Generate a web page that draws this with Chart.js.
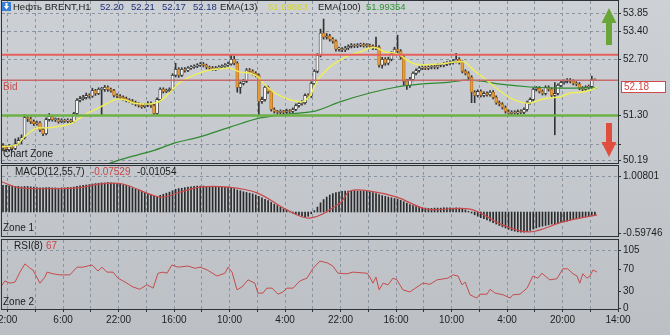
<!DOCTYPE html>
<html>
<head>
<meta charset="utf-8">
<script src="https://cdn.jsdelivr.net/npm/chart.js@4.4.1/dist/chart.umd.min.js"></script>
<style>
  html, body { margin: 0; padding: 0; }
  body { width: 670px; height: 335px; overflow: hidden; position: relative;
         background: linear-gradient(#cdd1d6, #c3c7cc 60%, #bcc0c5); }
  canvas { position: absolute; left: 0; }
  #mainChart { top: 0; }
  #macdChart { top: 164px; }
  #rsiChart { top: 238px; }
</style>
</head>
<body>
<canvas id="mainChart" width="670" height="165"></canvas>
<canvas id="macdChart" width="670" height="74"></canvas>
<canvas id="rsiChart" width="670" height="97"></canvas>
<script>
// time labels under the RSI window (every 18 bars)
const xLabels = ['2:00', '6:00', '22:00', '16:00', '10:00', '4:00', '22:00', '16:00', '10:00', '4:00', '20:00', '14:00'];

// H1 candles, bar 0 .. 192
const opens = [
  50.55, 50.50, 50.45, 50.52, 50.48, 50.60, 50.68, 50.75, 51.25, 51.22,
  51.15, 51.10, 51.12, 50.95, 50.85, 51.20, 51.28, 51.20, 51.20, 51.15,
  51.18, 51.16, 51.18, 51.15, 51.35, 51.68, 51.72, 51.75, 51.80, 51.78,
  51.92, 51.85, 51.95, 51.95, 52.00, 51.95, 51.92, 51.80, 51.78, 51.75,
  51.72, 51.68, 51.66, 51.62, 51.58, 51.55, 51.52, 51.56, 51.60, 51.55,
  51.35, 51.70, 51.95, 51.90, 51.92, 51.95, 52.30, 52.45, 52.30, 52.45,
  52.42, 52.48, 52.50, 52.52, 52.55, 52.58, 52.55, 52.50, 52.48, 52.45,
  52.48, 52.50, 52.52, 52.55, 52.58, 52.70, 52.60, 52.00, 52.10, 52.15,
  52.43, 52.40, 52.35, 52.30, 51.65, 51.70, 52.00, 51.90, 51.45, 51.40,
  51.38, 51.40, 51.38, 51.42, 51.40, 51.45, 51.55, 51.60, 51.62, 51.80,
  51.78, 52.10, 52.40, 52.80, 53.35, 53.25, 53.28, 53.20, 53.15, 52.95,
  52.95, 52.93, 52.98, 53.02, 53.05, 53.03, 53.05, 53.06, 53.04, 53.05,
  53.02, 52.98, 53.00, 52.55, 52.70, 52.60, 52.70, 52.85, 52.95, 52.90,
  52.75, 52.15, 52.05, 52.20, 52.35, 52.42, 52.48, 52.50, 52.48, 52.50,
  52.52, 52.50, 52.55, 52.55, 52.58, 52.60, 52.62, 52.65, 52.70, 52.62,
  52.40, 52.35, 52.25, 51.88, 51.80, 51.90, 51.80, 51.85, 51.82, 51.88,
  51.75, 51.62, 51.58, 51.50, 51.40, 51.35, 51.38, 51.36, 51.40, 51.38,
  51.45, 51.62, 51.70, 51.95, 51.98, 51.90, 51.85, 52.00, 51.95, 51.80,
  51.85, 52.05, 52.12, 52.15, 52.18, 52.15, 52.10, 52.08, 51.98, 51.95,
  52.00, 52.02, 52.20
];
const highs = [
  50.60, 50.55, 50.58, 50.56, 50.72, 50.75, 50.82, 51.32, 51.30, 51.26,
  51.19, 51.16, 51.15, 50.98, 51.24, 51.35, 51.31, 51.24, 51.23, 51.22,
  51.21, 51.22, 51.21, 51.38, 51.72, 51.78, 51.80, 51.86, 51.84, 51.98,
  51.95, 51.99, 52.00, 52.05, 52.04, 51.98, 51.95, 51.84, 51.82, 51.79,
  51.76, 51.72, 51.70, 51.66, 51.62, 51.59, 51.60, 51.65, 51.64, 51.58,
  51.74, 51.99, 51.99, 51.96, 51.99, 52.34, 52.60, 52.49, 52.49, 52.49,
  52.52, 52.54, 52.56, 52.59, 52.62, 52.62, 52.58, 52.53, 52.52, 52.52,
  52.54, 52.56, 52.59, 52.63, 52.80, 52.78, 52.64, 52.14, 52.20, 52.47,
  52.47, 52.44, 52.39, 52.34, 51.76, 52.04, 52.03, 51.93, 51.49, 51.43,
  51.44, 51.43, 51.46, 51.45, 51.49, 51.59, 51.64, 51.67, 51.84, 51.84,
  52.14, 52.44, 52.84, 53.45, 53.70, 53.34, 53.32, 53.24, 53.18, 53.00,
  52.99, 53.02, 53.06, 53.09, 53.08, 53.09, 53.10, 53.10, 53.09, 53.08,
  53.06, 53.25, 53.04, 52.75, 52.74, 52.75, 52.89, 53.00, 53.30, 52.94,
  52.79, 52.20, 52.25, 52.39, 52.46, 52.52, 52.54, 52.53, 52.54, 52.56,
  52.56, 52.59, 52.59, 52.62, 52.64, 52.66, 52.69, 52.85, 52.74, 52.66,
  52.44, 52.39, 52.29, 51.92, 51.94, 51.94, 51.89, 51.89, 51.92, 51.92,
  51.79, 51.66, 51.62, 51.54, 51.44, 51.42, 51.42, 51.44, 51.44, 51.49,
  51.66, 51.74, 51.99, 52.02, 52.02, 51.94, 52.04, 52.04, 51.99, 52.12,
  52.09, 52.16, 52.19, 52.22, 52.22, 52.19, 52.14, 52.12, 52.02, 52.04,
  52.06, 52.28, 52.21
];
const lows = [
  50.42, 50.40, 50.41, 50.44, 50.45, 50.57, 50.60, 50.72, 51.15, 51.10,
  51.05, 51.06, 50.90, 50.80, 50.82, 51.16, 51.16, 51.15, 51.11, 51.12,
  51.13, 51.12, 51.11, 51.12, 51.32, 51.64, 51.68, 51.71, 51.73, 51.75,
  51.80, 51.82, 51.30, 51.90, 51.90, 51.88, 51.76, 51.74, 51.71, 51.68,
  51.64, 51.62, 51.58, 51.54, 51.51, 51.48, 51.49, 51.52, 51.50, 51.32,
  51.33, 51.66, 51.86, 51.87, 51.88, 51.92, 52.26, 52.25, 52.27, 52.38,
  52.39, 52.45, 52.47, 52.49, 52.52, 52.51, 52.46, 52.44, 52.42, 52.42,
  52.45, 52.47, 52.49, 52.52, 52.55, 52.56, 51.88, 51.85, 52.06, 52.12,
  52.36, 52.31, 52.26, 51.30, 51.60, 51.66, 51.85, 51.41, 51.36, 51.34,
  51.34, 51.34, 51.35, 51.36, 51.37, 51.42, 51.51, 51.56, 51.58, 51.73,
  51.75, 52.06, 52.36, 52.76, 53.20, 53.20, 53.15, 53.10, 52.90, 52.90,
  52.89, 52.89, 52.94, 52.98, 52.99, 52.99, 53.01, 53.00, 53.00, 52.98,
  52.94, 52.94, 52.50, 52.48, 52.55, 52.56, 52.66, 52.81, 52.85, 52.70,
  52.05, 51.95, 52.00, 52.16, 52.31, 52.38, 52.44, 52.44, 52.44, 52.46,
  52.46, 52.46, 52.51, 52.51, 52.54, 52.56, 52.58, 52.61, 52.58, 52.36,
  52.31, 52.20, 51.62, 51.62, 51.76, 51.76, 51.76, 51.78, 51.78, 51.71,
  51.58, 51.54, 51.46, 51.36, 51.31, 51.31, 51.32, 51.32, 51.34, 51.34,
  51.41, 51.58, 51.66, 51.91, 51.86, 51.81, 51.81, 51.91, 51.76, 50.82,
  51.81, 52.01, 52.08, 52.11, 52.11, 52.06, 52.04, 51.94, 51.91, 51.91,
  51.96, 51.98, 52.17
];
const closes = [
  50.50, 50.45, 50.52, 50.48, 50.60, 50.68, 50.75, 51.25, 51.22, 51.15,
  51.10, 51.12, 50.95, 50.85, 51.20, 51.28, 51.20, 51.20, 51.15, 51.18,
  51.16, 51.18, 51.15, 51.35, 51.68, 51.72, 51.75, 51.80, 51.78, 51.92,
  51.85, 51.95, 51.95, 52.00, 51.95, 51.92, 51.80, 51.78, 51.75, 51.72,
  51.68, 51.66, 51.62, 51.58, 51.55, 51.52, 51.56, 51.60, 51.55, 51.35,
  51.70, 51.95, 51.90, 51.92, 51.95, 52.30, 52.45, 52.30, 52.45, 52.42,
  52.48, 52.50, 52.52, 52.55, 52.58, 52.55, 52.50, 52.48, 52.45, 52.48,
  52.50, 52.52, 52.55, 52.58, 52.70, 52.60, 52.00, 52.10, 52.15, 52.43,
  52.40, 52.35, 52.30, 51.65, 51.70, 52.00, 51.90, 51.45, 51.40, 51.38,
  51.40, 51.38, 51.42, 51.40, 51.45, 51.55, 51.60, 51.62, 51.80, 51.78,
  52.10, 52.40, 52.80, 53.35, 53.25, 53.28, 53.20, 53.15, 52.95, 52.95,
  52.93, 52.98, 53.02, 53.05, 53.03, 53.05, 53.06, 53.04, 53.05, 53.02,
  52.98, 53.00, 52.55, 52.70, 52.60, 52.70, 52.85, 52.95, 52.90, 52.75,
  52.15, 52.05, 52.20, 52.35, 52.42, 52.48, 52.50, 52.48, 52.50, 52.52,
  52.50, 52.55, 52.55, 52.58, 52.60, 52.62, 52.65, 52.70, 52.62, 52.40,
  52.35, 52.25, 51.88, 51.80, 51.90, 51.80, 51.85, 51.82, 51.88, 51.75,
  51.62, 51.58, 51.50, 51.40, 51.35, 51.38, 51.36, 51.40, 51.38, 51.45,
  51.62, 51.70, 51.95, 51.98, 51.90, 51.85, 52.00, 51.95, 51.80, 51.85,
  52.05, 52.12, 52.15, 52.18, 52.15, 52.10, 52.08, 51.98, 51.95, 52.00,
  52.02, 52.20, 52.18
];

// moving averages (bar position, price)
const ema13Bars = [-1, 4.5, 6.5, 8.8, 11, 13.6, 16.2, 20.1, 22.4, 25, 28.2, 31.5, 34.7, 37, 39.6, 42.2, 44.4, 47.7, 50.9, 54.2,
  57.4, 60.7, 63.9, 67.1, 70.4, 73.6, 76.9, 80.1, 82.7, 85, 88.2, 91.5, 94.7, 97, 99.6, 101.2, 102.8, 106.1, 109.3, 112.6,
  115.8, 119, 121.3, 123.9, 126.5, 128.8, 131, 133.6, 136.2, 141.7, 146.6, 149.9, 151.5, 154.7, 158, 161.2, 164.5, 167.7, 170.9, 174.2,
  177.4, 180.7, 183.9, 187.2, 190.4, 192.7];
const ema13Vals = [50.52, 50.57, 50.74, 50.89, 50.99, 50.99, 51.01, 51.06, 51.11, 51.24, 51.39, 51.51, 51.64, 51.71, 51.69, 51.61, 51.59, 51.59, 51.66, 51.88,
  52.13, 52.26, 52.36, 52.43, 52.46, 52.48, 52.38, 52.36, 52.26, 52.06, 51.86, 51.74, 51.66, 51.64, 51.79, 52.06, 52.26, 52.51, 52.68, 52.81,
  52.88, 52.98, 52.98, 52.88, 52.86, 52.81, 52.68, 52.58, 52.56, 52.58, 52.63, 52.63, 52.51, 52.31, 52.11, 51.91, 51.74, 51.64, 51.61, 51.69,
  51.74, 51.76, 51.86, 51.88, 51.93, 52.00];
const ema100Bars = [30, 35.7, 41.2, 49.3, 55.8, 63.9, 73.6, 83.4, 93.1, 101.2, 109.3, 119, 127.8, 135.3, 145, 149.9, 154.7, 161.2, 170.9, 180.7, 192.7];
const ema100Vals = [49.98, 50.14, 50.27, 50.44, 50.62, 50.77, 51.01, 51.24, 51.34, 51.41, 51.64, 51.86, 52.01, 52.08, 52.13, 52.18, 52.16, 52.08, 52.01, 51.98, 51.99];
const ema13Now = '51.99863';
const ema100Now = '51.99354';

// horizontal levels
const resistLevel = 52.81;
const bidLevel = 52.18;
const supportLevel = 51.30;
const priceTicks = [53.85, 53.40, 52.70, 51.30, 50.57, 50.19];

// MACD(12,55,7): histogram per bar and signal line
const macdHist = [
  0.75, 0.75, 0.74, 0.73, 0.72, 0.72, 0.71,
  0.72, 0.72, 0.71, 0.70, 0.69, 0.68, 0.68, 0.69, 0.69, 0.68, 0.68, 0.67, 0.68, 0.68, 0.69, 0.69, 0.70, 0.72,
  0.74, 0.75, 0.76, 0.77, 0.79, 0.80, 0.81,
  0.82, 0.82, 0.83, 0.82, 0.81, 0.80, 0.79,
  0.77, 0.75, 0.72, 0.68, 0.65, 0.62,
  0.58, 0.55, 0.52, 0.49, 0.45, 0.44, 0.47,
  0.50, 0.53, 0.56, 0.60, 0.64, 0.66, 0.67, 0.69,
  0.70, 0.71, 0.72, 0.73, 0.73, 0.73, 0.72, 0.72, 0.71, 0.71, 0.70, 0.70, 0.70, 0.70, 0.69,
  0.66, 0.62, 0.60, 0.57, 0.55, 0.53, 0.51, 0.48,
  0.44, 0.40, 0.36, 0.32, 0.27, 0.22, 0.18, 0.13, 0.09, 0.05, 0.01,
  -0.03, -0.06, -0.09, -0.12, -0.14, -0.12, -0.05,
  0.04, 0.14, 0.26, 0.35, 0.42, 0.48, 0.52, 0.55, 0.56, 0.58,
  0.59, 0.59, 0.60, 0.60, 0.59, 0.59, 0.58, 0.58, 0.57,
  0.55, 0.52, 0.49, 0.46, 0.44, 0.42, 0.40, 0.38, 0.36,
  0.33, 0.29, 0.25, 0.21, 0.18, 0.15, 0.13, 0.12, 0.11,
  0.10, 0.10, 0.11, 0.11, 0.11, 0.12, 0.12, 0.12, 0.11, 0.12, 0.11, 0.09, 0.06, 0.02, -0.03,
  -0.08, -0.12, -0.16, -0.19, -0.22, -0.26, -0.30, -0.34, -0.38, -0.42,
  -0.45, -0.49, -0.52, -0.54, -0.56, -0.57, -0.57, -0.55, -0.52,
  -0.48, -0.45, -0.42, -0.40, -0.38, -0.36, -0.34, -0.33, -0.31, -0.30, -0.28, -0.26,
  -0.23, -0.21, -0.19, -0.17, -0.15, -0.13, -0.11, -0.09, -0.08
];
const signalBars = [-1, 5.5, 24, 31.5, 38.9, 50.9, 57.4, 63.9, 72.7, 82.4, 92.1, 99.6, 109.3, 112.6, 119, 127.8, 137.5, 151.5, 162.2, 170.9, 181.6, 192.7];
const signalVals = [0.87, 0.68, 0.68, 0.79, 0.79, 0.42, 0.56, 0.70, 0.70, 0.54, 0.06, -0.17, 0.25, 0.59, 0.59, 0.42, 0.08, 0.08, -0.37, -0.56, -0.28, -0.08];
const macdTicks = [1.00801, -0.59746];
const macdNow = '-0.07529';
const signalNow = '-0.01054';

// RSI(8)
const rsiBars = [-1, 0.6, 2.3, 3.9, 5.5, 7.1, 8.8, 9.7, 12.0, 13.6, 14.3, 16.2, 18.5, 21.7, 24.0, 25.9, 28.9, 30.8, 32.1, 33.7,
  35.7, 37.3, 39.6, 42.2, 44.4, 46.7, 48.7, 50.3, 51.9, 53.2, 54.8, 56.8, 60.0, 62.3, 63.9, 66.2, 69.4, 72.0, 73.0, 74.3,
  75.9, 77.5, 79.5, 81.7, 82.7, 84.3, 85.6, 87.3, 89.2, 90.8, 92.1, 94.1, 96.3, 98.6, 100.6, 102.8, 105.1, 107.0, 108.7, 111.6,
  113.5, 118.1, 119.0, 120.0, 121.0, 122.0, 123.3, 124.9, 126.5, 127.8, 129.7, 132.0, 134.3, 136.2, 138.5, 140.8, 144.3, 146.0, 147.6, 148.9,
  149.9, 151.5, 153.7, 154.7, 157.0, 158.0, 159.6, 162.2, 164.5, 165.4, 167.7, 170.0, 171.9, 173.5, 174.8, 177.4, 179.7, 181.6, 183.2, 184.9,
  186.2, 187.1, 188.1, 189.4, 190.4, 191.4, 192.7];
const rsiVals = [36, 49, 45, 47, 65, 80, 72, 69, 45, 56, 65, 62, 60, 60, 74, 74, 78, 67, 74, 65,
  65, 54, 47, 38, 34, 42, 36, 63, 65, 63, 78, 74, 76, 72, 74, 69, 58, 63, 74, 65,
  33, 38, 51, 45, 27, 27, 36, 36, 25, 29, 36, 36, 49, 54, 72, 85, 82, 76, 63, 62,
  65, 63, 56, 45, 56, 33, 45, 42, 54, 51, 33, 29, 38, 45, 43, 51, 54, 60, 58, 42,
  47, 24, 18, 25, 25, 34, 27, 24, 18, 24, 25, 36, 58, 54, 63, 51, 53, 71, 71, 62,
  58, 45, 62, 54, 58, 69, 65];
const rsiTicks = [105, 70, 30, 0];
const rsiNow = '67';

Chart.defaults.font.family = '"Liberation Sans", Arial, sans-serif';
Chart.defaults.font.size = 10;

const gridColor = '#8a94a0';
const gridBars = xLabels.concat(xLabels).map((_, k) => 1.5 + 9 * k).slice(0, 23);
const last = closes.length - 1;

function xAxis(showLabels) {
  return {
    type: 'linear', min: -0.32, max: 199.5, offset: false,
    afterBuildTicks: s => { s.ticks = gridBars.map(v => ({ value: v })); },
    afterFit: s => { s.height = showLabels ? 26 : 0; s.paddingLeft = 0; s.paddingRight = 0; },
    grid: { color: gridColor, offset: false, drawTicks: showLabels, tickLength: 3, tickColor: '#333', tickBorderDash: [] },
    border: { display: false, dash: [3, 3] },
    ticks: {
      display: showLabels, autoSkip: false, maxRotation: 0, padding: 2, color: '#1e1e1e',
      callback: (v, i) => (i % 2 === 0 ? xLabels[i / 2] : '')
    }
  };
}

function yAxis(min, max, values, fmt, gridOn) {
  return {
    position: 'right', min: min, max: max,
    afterBuildTicks: s => { s.ticks = values.map(v => ({ value: v })); },
    afterFit: s => { s.width = 52; s.paddingTop = 0; s.paddingBottom = 0; },
    grid: {
      color: c => (c.tick && gridOn(c.tick.value) ? gridColor : 'rgba(0,0,0,0)'),
      tickLength: 3, tickColor: '#333', tickBorderDash: []
    },
    border: { display: false, dash: [3, 3] },
    ticks: { autoSkip: false, padding: 2, color: '#1e1e1e', callback: fmt }
  };
}

function txt(ctx, s, x, y, color, size) {
  ctx.fillStyle = color;
  ctx.font = (size || 10) + 'px "Liberation Sans", Arial, sans-serif';
  ctx.textBaseline = 'middle';
  ctx.textAlign = 'left';
  ctx.fillText(s, x, y);
}

function frame(chart) {
  const ctx = chart.ctx, a = chart.chartArea;
  ctx.save();
  ctx.strokeStyle = '#2e3338';
  ctx.lineWidth = 1;
  ctx.strokeRect(a.left - 0.5, a.top - 0.5, a.right - a.left + 1, a.bottom - a.top + 1);
  ctx.restore();
}

const base = {
  responsive: false, animation: false, devicePixelRatio: 1, events: [],
  plugins: { legend: { display: false }, tooltip: { enabled: false } }
};

// ---------- main price window ----------
const mainDeco = {
  id: 'mainDeco',
  afterDraw(chart) {
    const ctx = chart.ctx, a = chart.chartArea, y = chart.scales.y;
    frame(chart);
    ctx.save();
    // header
    ctx.fillStyle = '#3b7fd4';
    ctx.fillRect(2, 2, 9, 9);
    ctx.fillStyle = '#fff';
    ctx.beginPath();
    ctx.moveTo(4, 6); ctx.lineTo(9, 6); ctx.lineTo(6.5, 9.5); ctx.closePath(); ctx.fill();
    ctx.fillRect(5.5, 3, 2, 3);
    txt(ctx, 'Нефть BRENT,H1', 13, 7, '#1c1c1c', 9.5);
    txt(ctx, opens[last].toFixed(2), 100, 7, '#22307e', 9.5);
    txt(ctx, highs[last].toFixed(2), 131, 7, '#22307e', 9.5);
    txt(ctx, lows[last].toFixed(2), 162, 7, '#22307e', 9.5);
    txt(ctx, closes[last].toFixed(2), 193, 7, '#22307e', 9.5);
    txt(ctx, 'EMA(13)', 220, 7, '#1c1c1c', 9.5);
    txt(ctx, ema13Now, 268, 7, '#d6d622', 9.5);
    txt(ctx, 'EMA(100)', 318, 7, '#1c1c1c', 9.5);
    txt(ctx, ema100Now, 366, 7, '#2c962c', 9.5);
    // labels inside the window
    txt(ctx, 'Bid', 3, y.getPixelForValue(bidLevel) + 7, '#c44e4e');
    txt(ctx, 'Chart Zone', 3, a.bottom - 9, '#1c1c1c');
    // bid price box on the scale
    const by = Math.round(y.getPixelForValue(bidLevel)) + 1;
    ctx.fillStyle = '#ffffff';
    ctx.fillRect(a.right + 3, by, 45, 12);
    ctx.strokeStyle = '#d04848';
    ctx.lineWidth = 1;
    ctx.strokeRect(a.right + 3.5, by + 0.5, 44, 11);
    txt(ctx, bidLevel.toFixed(2), a.right + 6, by + 6.5, '#d04848');
    // arrows
    const cx = a.right - 9;
    ctx.fillStyle = '#68a638';
    ctx.fillRect(cx - 3, 22, 6, 23);
    ctx.beginPath();
    ctx.moveTo(cx - 7.5, 23); ctx.lineTo(cx + 7.5, 23); ctx.lineTo(cx, 8); ctx.closePath(); ctx.fill();
    ctx.fillStyle = '#e04e3e';
    ctx.fillRect(cx - 3, 123, 6, 20);
    ctx.beginPath();
    ctx.moveTo(cx - 7.5, 142); ctx.lineTo(cx + 7.5, 142); ctx.lineTo(cx, 157); ctx.closePath(); ctx.fill();
    ctx.restore();
  }
};

const bull = i => closes[i] >= opens[i];

new Chart(document.getElementById('mainChart'), {
  type: 'bar',
  data: {
    datasets: [
      {
        type: 'line', order: 0, data: [{ x: -1, y: resistLevel }, { x: 201, y: resistLevel }],
        borderColor: '#e6605c', borderWidth: 2, pointRadius: 0
      },
      {
        type: 'line', order: 0, data: [{ x: -1, y: bidLevel }, { x: 201, y: bidLevel }],
        borderColor: '#c86a6a', borderWidth: 1.5, pointRadius: 0
      },
      {
        type: 'line', order: 0, data: [{ x: -1, y: supportLevel }, { x: 201, y: supportLevel }],
        borderColor: '#6cb046', borderWidth: 2.5, pointRadius: 0
      },
      {
        type: 'line', order: 1, data: ema13Bars.map((b, i) => ({ x: b, y: ema13Vals[i] })),
        borderColor: '#eeee5a', borderWidth: 1.5, pointRadius: 0, tension: 0.3
      },
      {
        type: 'line', order: 1, data: ema100Bars.map((b, i) => ({ x: b, y: ema100Vals[i] })),
        borderColor: '#2e8a2e', borderWidth: 1.2, pointRadius: 0, tension: 0.3
      },
      {
        order: 2, grouped: false, barThickness: 3, minBarLength: 1, borderSkipped: false,
        data: closes.map((c, i) => ({ x: i, y: [opens[i], c] })),
        backgroundColor: c => (bull(c.dataIndex) ? '#f6f6f6' : '#e79c36'),
        borderColor: c => (bull(c.dataIndex) ? '#3a3a3a' : '#b07024'),
        borderWidth: 0.8
      },
      {
        order: 3, grouped: false, barThickness: 1,
        data: highs.map((h, i) => ({ x: i, y: [lows[i], h] })),
        backgroundColor: '#333333'
      }
    ]
  },
  options: Object.assign({}, base, {
    layout: { padding: { top: 1, left: 2, bottom: 2, right: 0 } },
    scales: {
      x: xAxis(false),
      y: yAxis(50.119, 54.149, priceTicks, v => (v === 50.57 ? '' : v.toFixed(2)), () => true)
    }
  }),
  plugins: [mainDeco]
});

// ---------- MACD window ----------
new Chart(document.getElementById('macdChart'), {
  type: 'bar',
  data: {
    datasets: [
      {
        type: 'line', order: 0, data: signalBars.map((b, i) => ({ x: b, y: signalVals[i] })),
        borderColor: '#c84a4a', borderWidth: 1.2, pointRadius: 0, tension: 0.35
      },
      {
        order: 1, barThickness: 1, data: macdHist.map((v, i) => ({ x: i, y: v })),
        backgroundColor: '#2a2a2a'
      }
    ]
  },
  options: Object.assign({}, base, {
    layout: { padding: { top: 2, left: 2, bottom: 2, right: 0 } },
    scales: {
      x: xAxis(false),
      y: yAxis(-0.676, 1.296, macdTicks, v => v.toFixed(5), v => v > 0)
    }
  }),
  plugins: [{
    id: 'macdDeco',
    afterDraw(chart) {
      const ctx = chart.ctx, a = chart.chartArea;
      frame(chart);
      txt(ctx, 'MACD(12,55,7)', 15, a.top + 6, '#1c1c1c');
      txt(ctx, macdNow, 91, a.top + 6, '#cc4444');
      txt(ctx, signalNow, 137, a.top + 6, '#1c1c1c');
      txt(ctx, 'Zone 1', 3, a.bottom - 8, '#1c1c1c');
    }
  }]
});

// ---------- RSI window ----------
new Chart(document.getElementById('rsiChart'), {
  type: 'line',
  data: {
    datasets: [{
      data: rsiBars.map((b, i) => ({ x: b, y: rsiVals[i] })),
      borderColor: '#c44c4c', borderWidth: 1, pointRadius: 0
    }]
  },
  options: Object.assign({}, base, {
    layout: { padding: { top: 2, left: 2, bottom: 0, right: 0 } },
    scales: {
      x: xAxis(true),
      y: yAxis(-1.8, 123.2, rsiTicks, v => String(v), v => v === 105)
    }
  }),
  plugins: [{
    id: 'rsiDeco',
    afterDraw(chart) {
      const ctx = chart.ctx, a = chart.chartArea;
      frame(chart);
      txt(ctx, 'RSI(8)', 14, a.top + 6, '#1c1c1c');
      txt(ctx, rsiNow, 46, a.top + 6, '#cc4444');
      txt(ctx, 'Zone 2', 3, a.bottom - 7, '#1c1c1c');
    }
  }]
});
</script>
</body>
</html>
